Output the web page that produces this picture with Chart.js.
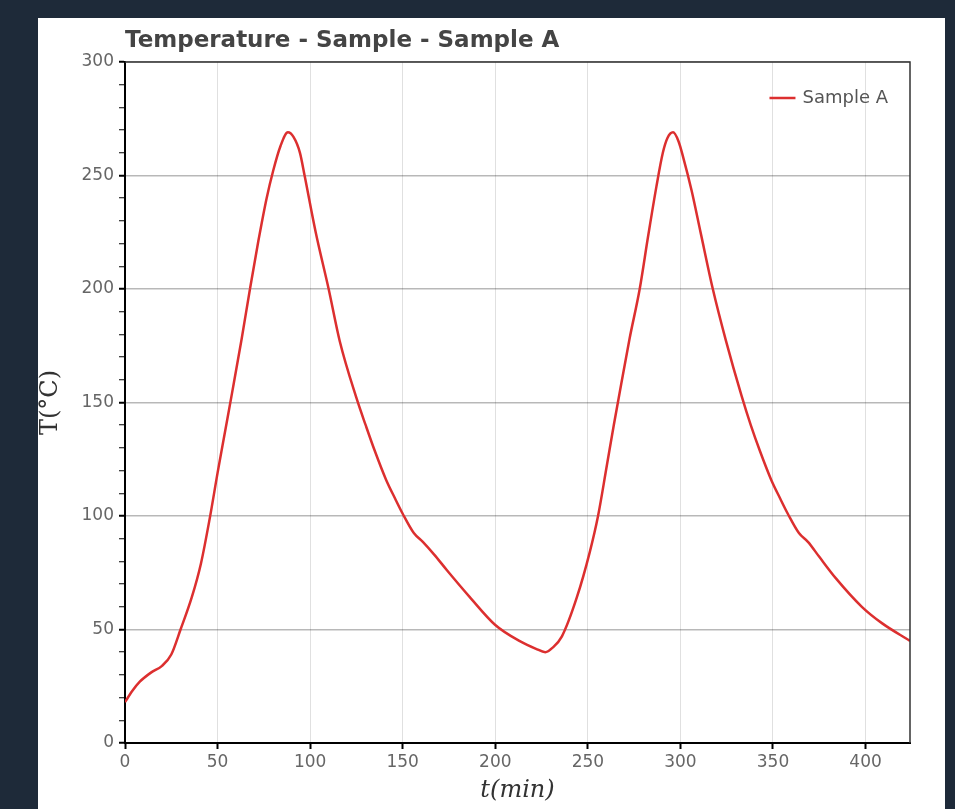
<!DOCTYPE html>
<html>
<head>
<meta charset="utf-8">
<script src="https://cdn.jsdelivr.net/npm/chart.js@4.4.1/dist/chart.umd.min.js"></script>
<style>
    html, body { margin: 0; padding: 0; background: #1e2a39; width: 955px; height: 809px; overflow: hidden; }
    .card { position: absolute; left: 38px; top: 18px; width: 907px; height: 791px; background: #fff; }
    canvas { display: block; }
</style>
</head>
<body>
<div class="card"><canvas id="tempChart" width="907" height="791"></canvas></div>
<script>
// t (min) and T (°C)
const timeMin = [0, 4, 8, 14, 20, 25, 30, 36, 41, 46, 50, 54, 58, 63, 67.5, 72, 76.5, 80, 84, 88, 91, 94.5,
    97, 103, 110, 116, 125, 130, 135, 141, 146, 150, 156, 161, 167, 174, 186, 200, 213, 222, 227, 231, 236,
    244, 251, 255.5, 260, 264, 268, 272.5, 278, 282.5, 287, 290.5, 293, 296, 299, 301.5, 306, 311, 317.5,
    324.5, 333, 338, 343, 349, 354, 358, 364, 369, 375, 384, 398, 409, 424];
const tempC = [18, 23, 27, 31, 34, 39, 50, 64, 79, 100, 119, 137, 155, 178, 200, 221, 240, 252, 263, 269, 267, 260,
    250, 225, 200, 177, 152, 140, 128.5, 116, 107.5, 101, 92.5, 88.5, 83, 76, 64.5, 52, 45, 41.5, 40, 42, 47,
    64, 84, 100, 121, 140, 158, 178, 200, 223, 245, 260, 266.5, 269, 265, 258, 243.5, 224.5, 200,
    177.5, 153, 140, 128.5, 116, 107.5, 101, 92.5, 88.5, 82, 72.5, 60, 52.7, 45];
const seriesName = 'Sample A';
const chartTitle = 'Temperature - Sample - Sample A';
const xLabel = 't(min)';
const yLabel = 'T(°C)';

const points = timeMin.map((t, i) => ({ x: t, y: tempC[i] }));

const sansFont = 'DejaVu Sans, Verdana, sans-serif';

// top/right frame of the plot box
const frameBox = {
    id: 'frameBox',
    afterDatasetsDraw(chart) {
        const { ctx, chartArea: a } = chart;
        ctx.save();
        ctx.strokeStyle = '#333';
        ctx.lineWidth = 1.5;
        ctx.beginPath();
        ctx.moveTo(a.left, a.top);
        ctx.lineTo(a.right, a.top);
        ctx.lineTo(a.right, a.bottom);
        ctx.stroke();
        ctx.restore();
    }
};

// legend in the top-right corner of the plot area
const cornerLegend = {
    id: 'cornerLegend',
    afterDraw(chart) {
        const { ctx, chartArea: a } = chart;
        const ds = chart.data.datasets[0];
        ctx.save();
        ctx.font = '18px ' + sansFont;
        ctx.fillStyle = '#555';
        ctx.textAlign = 'right';
        ctx.textBaseline = 'middle';
        const textRight = a.right - 22;
        const y = a.top + 36;
        ctx.fillText(ds.label, textRight, y);
        const textLeft = textRight - ctx.measureText(ds.label).width;
        ctx.strokeStyle = ds.borderColor;
        ctx.lineWidth = ds.borderWidth;
        ctx.beginPath();
        ctx.moveTo(textLeft - 33, y);
        ctx.lineTo(textLeft - 7, y);
        ctx.stroke();
        ctx.restore();
    }
};

const tickFont = { family: sansFont, size: 17 };

new Chart(document.getElementById('tempChart'), {
    type: 'line',
    data: {
        datasets: [{
            label: seriesName,
            data: points,
            borderColor: '#dc2f2f',
            backgroundColor: '#dc2f2f',
            borderWidth: 2.5,
            pointRadius: 0,
            cubicInterpolationMode: 'monotone',
            fill: false
        }]
    },
    options: {
        responsive: false,
        animation: false,
        layout: { padding: { left: 0, right: 35, top: 0, bottom: 0 } },
        scales: {
            x: {
                type: 'linear',
                min: 0,
                max: 424,
                afterBuildTicks: (s) => {
                    const ticks = [];
                    for (let v = 0; v <= s.max; v += 50) ticks.push({ value: v });
                    s.ticks = ticks;
                },
                afterFit: (s) => { s.height = 66; },
                ticks: { stepSize: 50, color: '#666', font: tickFont, padding: 3, maxRotation: 0, autoSkip: false },
                grid: { color: 'rgba(0,0,0,0.12)', lineWidth: 1, tickColor: '#000', tickLength: 6, tickWidth: 2 },
                border: { color: '#000', width: 2 },
                title: {
                    display: true, text: xLabel, color: '#333',
                    font: { family: 'DejaVu Serif, serif', size: 24, style: 'italic' },
                    padding: { top: 0, bottom: 4 }
                }
            },
            y: {
                min: 0,
                max: 300,
                afterFit: (s) => { s.width = 87; },
                ticks: {
                    stepSize: 10, autoSkip: false, color: '#666', font: tickFont, padding: 5,
                    callback: (v) => (v % 50 === 0 ? v : '')
                },
                grid: {
                    color: (c) => (c.tick && c.tick.value % 50 === 0 ? 'rgba(0,0,0,0.28)' : 'transparent'),
                    lineWidth: 1.5,
                    tickColor: '#000',
                    tickLength: 6,
                    tickWidth: (c) => (c.tick && c.tick.value % 50 === 0 ? 2 : 1)
                },
                border: { color: '#000', width: 2 },
                title: {
                    display: true, text: yLabel, color: '#333',
                    font: { family: 'DejaVu Serif, serif', size: 24, lineHeight: 1 },
                    padding: { top: 1, bottom: 0 }
                }
            }
        },
        plugins: {
            title: {
                display: true,
                text: chartTitle,
                align: 'start',
                fullSize: false,
                color: '#444',
                font: { family: sansFont, size: 23, weight: 'bold' },
                padding: { top: 9, bottom: 7.4 }
            },
            legend: { display: false },
            tooltip: { enabled: false }
        }
    },
    plugins: [frameBox, cornerLegend]
});
</script>
</body>
</html>
